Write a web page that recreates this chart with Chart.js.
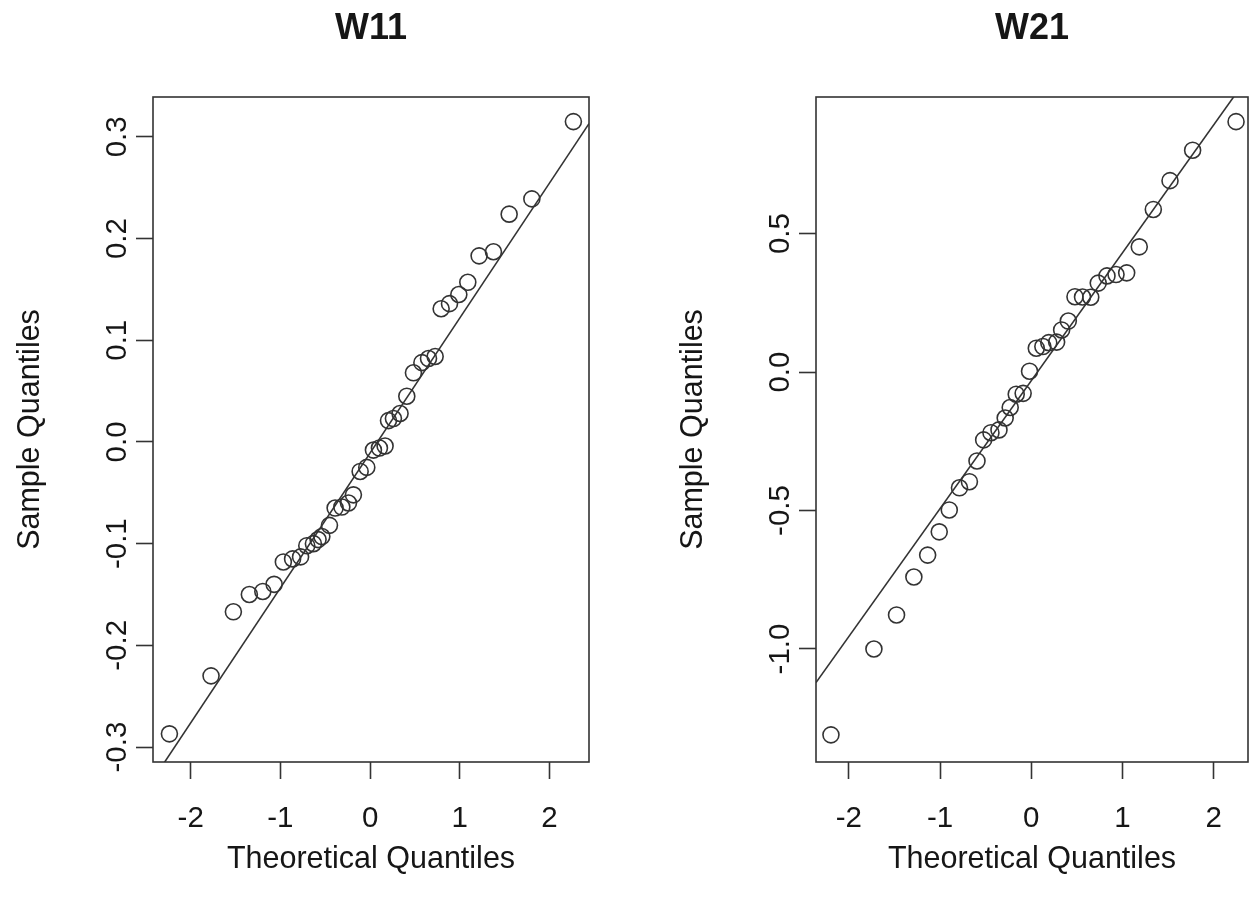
<!DOCTYPE html>
<html>
<head>
<meta charset="utf-8">
<script src="https://cdn.jsdelivr.net/npm/chart.js@4.4.1/dist/chart.umd.min.js"></script>
<style>
  html, body { margin: 0; padding: 0; background: #fff; }
  body { width: 1250px; height: 903px; position: relative; overflow: hidden; }
  .panel { position: absolute; top: 0; }
  #pLeft { left: 0; }
  #pRight { left: 663px; }
</style>
</head>
<body>
<div class="panel" id="pLeft"><canvas id="w11" width="742" height="903"></canvas></div>
<div class="panel" id="pRight"><canvas id="w21" width="738" height="903"></canvas></div>
<script>
// Normal Q-Q plots, two panels (W11, W21)

const xTicks = [-2, -1, 0, 1, 2];

// W11
const w11X = [-2.237, -1.773, -1.524, -1.346, -1.196, -1.070, -0.967, -0.864, -0.775, -0.706,
  -0.632, -0.580, -0.538, -0.453, -0.390, -0.315, -0.241, -0.186, -0.111, -0.037,
  0.037, 0.104, 0.167, 0.205, 0.260, 0.334, 0.409, 0.483, 0.577, 0.651,
  0.725, 0.792, 0.885, 0.989, 1.089, 1.215, 1.375, 1.550, 1.803, 2.266];
const w11Y = [-0.287, -0.230, -0.167, -0.150, -0.147, -0.140, -0.118, -0.115, -0.113, -0.102,
  -0.100, -0.096, -0.093, -0.082, -0.065, -0.064, -0.060, -0.052, -0.029, -0.025,
  -0.008, -0.006, -0.004, 0.021, 0.023, 0.028, 0.045, 0.068, 0.078, 0.082,
  0.084, 0.131, 0.136, 0.145, 0.157, 0.183, 0.187, 0.224, 0.239, 0.315];
const w11YTicks = [-0.3, -0.2, -0.1, 0.0, 0.1, 0.2, 0.3];
const w11LineX = [-2.42, 2.44];
const w11LineY = [-0.332, 0.313];

// W21
const w21X = [-2.196, -1.725, -1.477, -1.287, -1.136, -1.009, -0.899, -0.787, -0.678, -0.595,
  -0.522, -0.442, -0.354, -0.286, -0.231, -0.165, -0.089, -0.019, 0.055, 0.127,
  0.192, 0.278, 0.333, 0.406, 0.479, 0.562, 0.652, 0.734, 0.830, 0.929,
  1.046, 1.184, 1.338, 1.521, 1.769, 2.245];
const w21Y = [-1.310, -1.000, -0.877, -0.740, -0.661, -0.577, -0.498, -0.418, -0.396, -0.321,
  -0.245, -0.219, -0.209, -0.166, -0.128, -0.080, -0.077, 0.003, 0.086, 0.092,
  0.106, 0.108, 0.152, 0.184, 0.272, 0.271, 0.270, 0.321, 0.347, 0.352,
  0.358, 0.452, 0.587, 0.691, 0.801, 0.904];
const w21YTicks = [-1.0, -0.5, 0.0, 0.5];
const w21LineX = [-2.36, 2.376];
const w21LineY = [-1.121, 1.066];

const FONT = 'Liberation Sans, Arial, Helvetica, sans-serif';
const INK = '#161616';
const LINE = '#333333';

// box around the plotting region
const boxPlugin = {
  id: 'plotBox',
  afterDraw(chart) {
    const a = chart.chartArea, ctx = chart.ctx;
    ctx.save();
    ctx.strokeStyle = LINE;
    ctx.lineWidth = 1.6;
    ctx.strokeRect(a.left, a.top, a.right - a.left, a.bottom - a.top);
    ctx.restore();
  }
};

// rightGap: empty axis on the right, so the title centres over the plot box
function drawQQ(id, title, xs, ys, lineX, lineY, yTicks, xRange, yRange, rightGap) {
  new Chart(document.getElementById(id), {
    type: 'scatter',
    data: {
      datasets: [{
        data: xs.map((x, i) => ({ x: x, y: ys[i] })),
        showLine: false,
        pointStyle: 'circle',
        pointRadius: 8,
        pointBorderWidth: 1.6,
        pointBorderColor: LINE,
        pointBackgroundColor: 'rgba(0,0,0,0)',
        clip: false
      }, {
        type: 'line',
        data: lineX.map((x, i) => ({ x: x, y: lineY[i] })),
        borderColor: LINE,
        borderWidth: 1.6,
        pointRadius: 0,
        clip: 0
      }]
    },
    options: {
      responsive: false,
      animation: false,
      events: [],
      layout: { padding: 0 },
      plugins: {
        legend: { display: false },
        tooltip: { enabled: false },
        title: {
          display: true,
          text: title,
          color: INK,
          font: { family: FONT, size: 36, weight: 'bold' },
          padding: { top: 7, bottom: 46.8 }
        }
      },
      scales: {
        x: {
          type: 'linear',
          min: xRange[0],
          max: xRange[1],
          afterBuildTicks: s => { s.ticks = xTicks.map(v => ({ value: v })); },
          afterFit: s => { s.height = 141; },
          ticks: {
            color: INK,
            font: { family: FONT, size: 29.5 },
            padding: 22,
            maxRotation: 0,
            callback: v => String(v)
          },
          grid: { drawOnChartArea: false, drawTicks: true, tickLength: 17, tickColor: LINE, tickWidth: 1.6 },
          border: { display: false },
          title: {
            display: true,
            text: 'Theoretical Quantiles',
            color: INK,
            font: { family: FONT, size: 30.5 },
            padding: { top: 0, bottom: 25 }
          }
        },
        y: {
          type: 'linear',
          min: yRange[0],
          max: yRange[1],
          afterBuildTicks: s => { s.ticks = yTicks.map(v => ({ value: v })); },
          afterFit: s => { s.width = 153; },
          ticks: {
            color: INK,
            font: { family: FONT, size: 29.5 },
            padding: -7,
            crossAlign: 'center',
            minRotation: 90,
            maxRotation: 90,
            callback: v => v.toFixed(1)
          },
          grid: { drawOnChartArea: false, drawTicks: true, tickLength: 17, tickColor: LINE, tickWidth: 1.6 },
          border: { display: false },
          title: {
            display: true,
            text: 'Sample Quantiles',
            color: INK,
            font: { family: FONT, size: 30.5 },
            padding: { top: 12, bottom: 0 }
          }
        },
        gap: {
          type: 'linear',
          position: 'right',
          afterFit: s => { s.width = rightGap; },
          ticks: { display: false },
          grid: { display: false },
          border: { display: false }
        }
      }
    },
    plugins: [boxPlugin]
  });
}

drawQQ('w11', 'W11', w11X, w11Y, w11LineX, w11LineY, w11YTicks, [-2.42, 2.44], [-0.3147, 0.3392], 153);
drawQQ('w21', 'W21', w21X, w21Y, w21LineX, w21LineY, w21YTicks, [-2.36, 2.376], [-1.408, 0.993], 153);
</script>
</body>
</html>
